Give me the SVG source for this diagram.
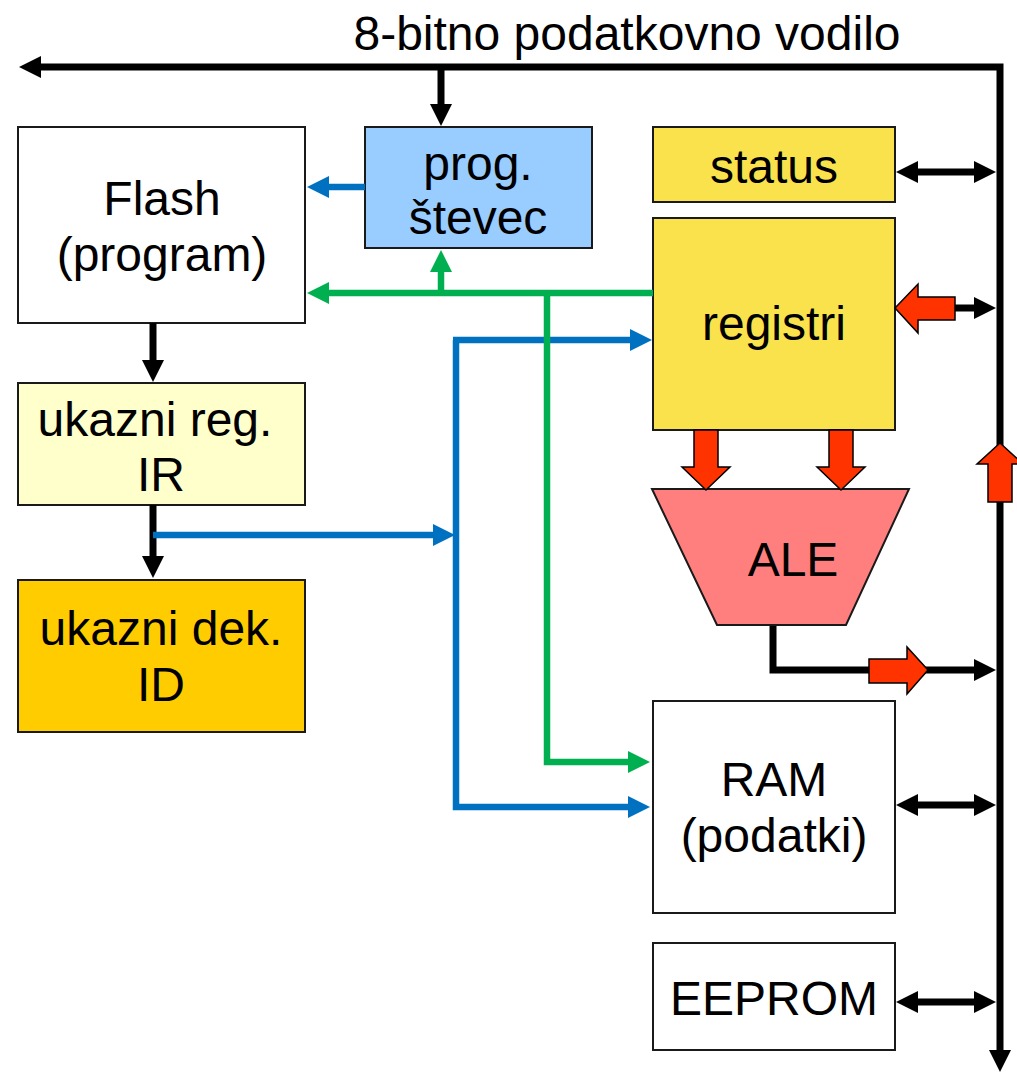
<svg xmlns="http://www.w3.org/2000/svg" width="1017" height="1075" viewBox="0 0 1017 1075">
<style>
text{font-family:"Liberation Sans",Arial,sans-serif;font-size:48px;fill:#000;text-anchor:middle}
.box{stroke:#1a1a1a;stroke-width:2}
.k{fill:none;stroke:#000;stroke-width:7;stroke-linejoin:miter}
.b{fill:none;stroke:#0070C0;stroke-width:6.5}
.g{fill:none;stroke:#00B050;stroke-width:6.5}
.red{fill:#FF3300;stroke:#000;stroke-width:1.5}
</style>
<defs>
<marker id="ak" markerUnits="userSpaceOnUse" markerWidth="23" markerHeight="23" refX="1" refY="11" orient="auto-start-reverse" overflow="visible"><path d="M0,0 L22,11 L0,22 z" fill="#000"/></marker>
<marker id="ab" markerUnits="userSpaceOnUse" markerWidth="23" markerHeight="23" refX="1" refY="11" orient="auto-start-reverse" overflow="visible"><path d="M0,0 L22,11 L0,22 z" fill="#0070C0"/></marker>
<marker id="ag" markerUnits="userSpaceOnUse" markerWidth="23" markerHeight="23" refX="1" refY="11" orient="auto-start-reverse" overflow="visible"><path d="M0,0 L22,11 L0,22 z" fill="#00B050"/></marker>
</defs>
<rect width="1017" height="1075" fill="#fff"/>
<text x="627" y="50">8-bitno podatkovno vodilo</text>

<g id="flash"><rect class="box" x="18" y="127" width="287" height="196" fill="#fff"/><text x="162" y="215">Flash</text><text x="162" y="271">(program)</text></g>
<g id="pc"><rect class="box" x="365" y="127" width="227" height="121" fill="#99CCFF"/><text x="478" y="180">prog.</text><text x="478" y="234">števec</text></g>
<g id="status"><rect class="box" x="653" y="127" width="242" height="75" fill="#F9E24B"/><text x="774" y="183">status</text></g>
<g id="registri"><rect class="box" x="653" y="218" width="242" height="212" fill="#F9E24B"/><text x="774" y="340">registri</text></g>
<g id="ir"><rect class="box" x="18" y="383" width="287" height="122" fill="#FFFFCC"/><text x="155" y="436">ukazni reg.</text><text x="161" y="491">IR</text></g>
<g id="id"><rect class="box" x="18" y="580" width="287" height="152" fill="#FFCC00"/><text x="161" y="645">ukazni dek.</text><text x="161" y="701">ID</text></g>
<g id="ale"><polygon class="box" points="652,489 909,489 846,625 717,625" fill="#FF7F7F"/><text x="793" y="576">ALE</text></g>
<g id="ram"><rect class="box" x="653" y="701" width="242" height="212" fill="#fff"/><text x="774" y="796">RAM</text><text x="774" y="852">(podatki)</text></g>
<g id="eeprom"><rect class="box" x="653" y="943" width="242" height="107" fill="#fff"/><text x="774" y="1015">EEPROM</text></g>

<g id="connectors">
<path class="k" d="M40,67 H1000 V1051" marker-start="url(#ak)" marker-end="url(#ak)"/>
<path class="k" d="M441,67 V105" marker-end="url(#ak)"/>
<path class="k" d="M153,323 V361" marker-end="url(#ak)"/>
<path class="k" d="M153,505 V557" marker-end="url(#ak)"/>
<path class="k" d="M917,172 H975" marker-start="url(#ak)" marker-end="url(#ak)"/>
<path class="k" d="M955,308 H975" marker-end="url(#ak)"/>
<path class="k" d="M917,805 H975" marker-start="url(#ak)" marker-end="url(#ak)"/>
<path class="k" d="M917,1002 H975" marker-start="url(#ak)" marker-end="url(#ak)"/>
<path class="k" d="M773,626 V670 H975" marker-end="url(#ak)"/>
<path class="b" d="M365,187 H328" marker-end="url(#ab)"/>
<path class="b" d="M153,535 H434" marker-end="url(#ab)"/>
<path class="b" d="M456,340 V807 H629" marker-end="url(#ab)"/>
<path class="b" d="M453,340 H631" marker-end="url(#ab)"/>
<path class="g" d="M653,293 H328" marker-end="url(#ag)"/>
<path class="g" d="M441,293 V271" marker-end="url(#ag)"/>
<path class="g" d="M547,293 V762 H629" marker-end="url(#ag)"/>
<polygon class="red" points="895,308 918,284 918,297 955,297 955,320 918,320 918,333"/>
<polygon class="red" points="694,430 718,430 718,467 730,467 706,490 682,467 694,467"/>
<polygon class="red" points="829,430 853,430 853,467 865,467 841,490 817,467 829,467"/>
<polygon class="red" points="869,659 907,659 907,647 928,670 907,694 907,683 869,683"/>
<polygon class="red" points="1000,443 1023,464 1012,464 1012,502 988,502 988,464 977,464"/>
</g>
</svg>
